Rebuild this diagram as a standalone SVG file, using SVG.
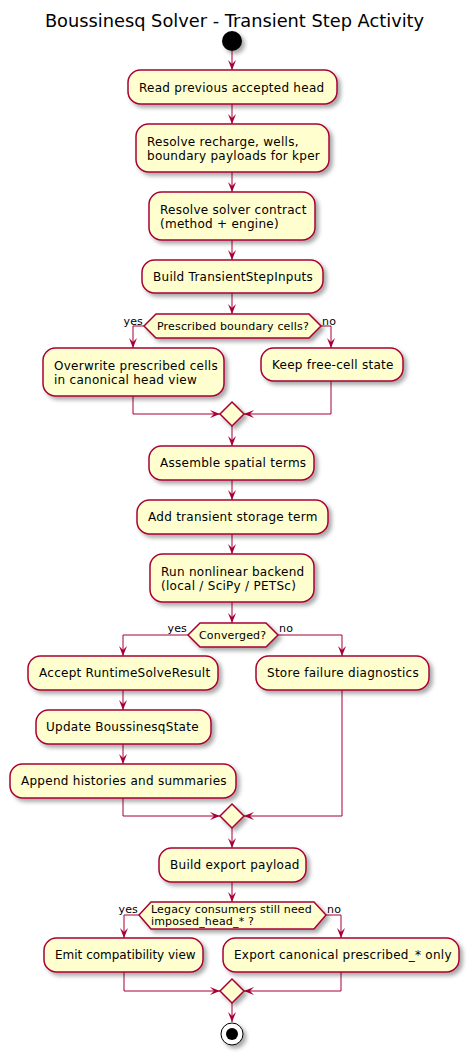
<svg xmlns="http://www.w3.org/2000/svg" width="469" height="1054" viewBox="0 0 469 1054">
<style>
.box{fill:#FEFECE;stroke:#A80036;stroke-width:1.5;filter:url(#sh)}
.t{font-family:"DejaVu Sans",sans-serif;font-size:12px;letter-spacing:0.27px;fill:#000}
.s{font-family:"DejaVu Sans",sans-serif;font-size:11px;letter-spacing:0.17px;fill:#000}
.c{fill:none;stroke:#A80036;stroke-width:1;marker-end:url(#ar)}
</style>
<defs>
<filter id="sh" x="-20%" y="-20%" width="150%" height="160%">
<feDropShadow dx="3" dy="3" stdDeviation="2" flood-color="#000" flood-opacity="0.35"/>
</filter>
<marker id="ar" viewBox="0 0 10 8" refX="10" refY="4" markerWidth="10" markerHeight="8" markerUnits="userSpaceOnUse" orient="auto">
<path d="M0,0 L10,4 L0,8 L4,4 Z" fill="#A80036"/>
</marker>
</defs>
<rect width="469" height="1054" fill="#FFFFFF"/>
<text x="234.5" y="27" text-anchor="middle" font-family="DejaVu Sans, sans-serif" font-size="17.8">Boussinesq Solver - Transient Step Activity</text>

<g id="connectors">
<path class="c" d="M232,51 V70"/>
<path class="c" d="M232,104 V124"/>
<path class="c" d="M232,172 V192"/>
<path class="c" d="M232,240 V260"/>
<path class="c" d="M232,293 V314"/>
<path class="c" d="M144,326 H133 V348"/>
<path class="c" d="M321,326 H331 V348"/>
<path class="c" d="M133,396 V414 H220"/>
<path class="c" d="M331,381 V414 H244"/>
<path class="c" d="M232,426 V446"/>
<path class="c" d="M232,480 V500"/>
<path class="c" d="M232,534 V554"/>
<path class="c" d="M232,602 V623"/>
<path class="c" d="M188,635 H123 V656"/>
<path class="c" d="M278,635 H342 V656"/>
<path class="c" d="M123,690 V710"/>
<path class="c" d="M123,744 V764"/>
<path class="c" d="M123,798 V816 H220"/>
<path class="c" d="M342,690 V816 H244"/>
<path class="c" d="M232,828 V848"/>
<path class="c" d="M232,882 V902"/>
<path class="c" d="M139,915 H124 V938"/>
<path class="c" d="M326,915 H341 V938"/>
<path class="c" d="M124,972 V991 H220"/>
<path class="c" d="M341,972 V991 H244"/>
<path class="c" d="M232,1003 V1022"/>
<text class="s" x="143" y="325" text-anchor="end">yes</text>
<text class="s" x="322" y="325">no</text>
<text class="s" x="187" y="632" text-anchor="end">yes</text>
<text class="s" x="279" y="632">no</text>
<text class="s" x="138" y="913" text-anchor="end">yes</text>
<text class="s" x="327" y="913">no</text>
</g>

<g id="start"><circle cx="232" cy="41" r="10" fill="#000" filter="url(#sh)"/></g>

<g id="read"><rect class="box" x="128" y="70" width="209" height="34" rx="12.5"/><text class="t" x="139" y="92">Read previous accepted head</text></g>
<g id="resolve-payloads"><rect class="box" x="136" y="124" width="193" height="48" rx="12.5"/><text class="t" x="147" y="146">Resolve recharge, wells,</text><text class="t" x="147" y="160">boundary payloads for kper</text></g>
<g id="resolve-contract"><rect class="box" x="149" y="192" width="166" height="48" rx="12.5"/><text class="t" x="160" y="214">Resolve solver contract</text><text class="t" x="160" y="228">(method + engine)</text></g>
<g id="build-inputs"><rect class="box" x="142" y="260" width="181" height="33" rx="12.5"/><text class="t" x="153" y="281">Build TransientStepInputs</text></g>

<g id="decision-prescribed"><polygon class="box" points="156,314 309,314 321,326 309,338 156,338 144,326"/><text class="s" x="157" y="330">Prescribed boundary cells?</text></g>
<g id="overwrite"><rect class="box" x="43" y="348" width="181" height="48" rx="12.5"/><text class="t" x="54" y="370">Overwrite prescribed cells</text><text class="t" x="54" y="384">in canonical head view</text></g>
<g id="keep-free"><rect class="box" x="261" y="348" width="142" height="33" rx="12.5"/><text class="t" x="272" y="369">Keep free-cell state</text></g>
<g id="merge1"><polygon class="box" points="232,402 244,414 232,426 220,414"/></g>

<g id="assemble"><rect class="box" x="149" y="446" width="165" height="34" rx="12.5"/><text class="t" x="160" y="467">Assemble spatial terms</text></g>
<g id="storage"><rect class="box" x="137" y="500" width="191" height="34" rx="12.5"/><text class="t" x="148" y="521">Add transient storage term</text></g>
<g id="nonlinear"><rect class="box" x="150" y="554" width="164" height="48" rx="12.5"/><text class="t" x="161" y="576">Run nonlinear backend</text><text class="t" x="161" y="590">(local / SciPy / PETSc)</text></g>

<g id="decision-converged"><polygon class="box" points="200,623 266,623 278,635 266,647 200,647 188,635"/><text class="s" x="199" y="639">Converged?</text></g>
<g id="accept"><rect class="box" x="28" y="656" width="190" height="34" rx="12.5"/><text class="t" x="39" y="677">Accept RuntimeSolveResult</text></g>
<g id="update"><rect class="box" x="36" y="710" width="175" height="34" rx="12.5"/><text class="t" x="46" y="731">Update BoussinesqState</text></g>
<g id="append"><rect class="box" x="10" y="764" width="226" height="34" rx="12.5"/><text class="t" x="21" y="785">Append histories and summaries</text></g>
<g id="failure"><rect class="box" x="256" y="656" width="173" height="34" rx="12.5"/><text class="t" x="267" y="677">Store failure diagnostics</text></g>
<g id="merge2"><polygon class="box" points="232,804 244,816 232,828 220,816"/></g>

<g id="export-payload"><rect class="box" x="159" y="848" width="147" height="34" rx="12.5"/><text class="t" x="170" y="869">Build export payload</text></g>
<g id="decision-legacy"><polygon class="box" points="151,902 314,902 326,915 314,929 151,929 139,915"/><text class="s" x="151" y="913">Legacy consumers still need</text><text class="s" x="151" y="925">imposed_head_* ?</text></g>
<g id="emit"><rect class="box" x="44" y="938" width="159" height="34" rx="12.5"/><text class="t" x="55" y="959" style="letter-spacing:0">Emit compatibility view</text></g>
<g id="export-canonical"><rect class="box" x="223" y="938" width="236" height="34" rx="12.5"/><text class="t" x="234" y="959">Export canonical prescribed_* only</text></g>
<g id="merge3"><polygon class="box" points="232,979 244,991 232,1003 220,991"/></g>

<g id="end"><circle cx="232" cy="1034" r="11" fill="#FFFFFF" stroke="#000" stroke-width="1" filter="url(#sh)"/><circle cx="232" cy="1034" r="6" fill="#000"/></g>
</svg>
